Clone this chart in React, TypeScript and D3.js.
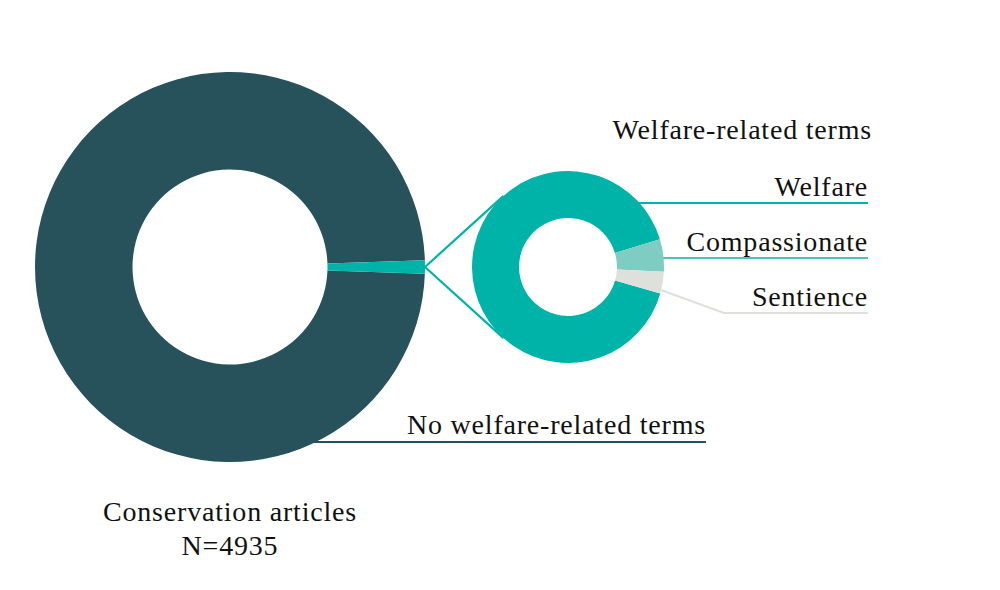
import React from 'react'
import { pie, arc, PieArcDatum } from 'd3'

// article counts (4935 in total)
const outerCategories = ['No welfare-related terms', 'Welfare-related terms']
const outerValues = [4880, 55]

const innerCategories = ['Welfare', 'Compassionate', 'Sentience']
const innerValues = [50, 3, 2]

const totalLabel = ['Conservation articles', 'N=4935']

const W = 1000, H = 590
const FONT = '"Liberation Serif", "DejaVu Serif", serif'

const big = { cx: 230, cy: 267, r: 195, r0: 97.5 }
const small = { cx: 568, cy: 267, r: 96, r0: 49 }

const outerColors = ['#27525c', '#00b3a8']
const innerColors = ['#00b3a8', '#7fcdc2', '#dde0db']
const lineColors = ['#00b3a8', '#4fc2b6', '#dde0db']

const deg = Math.PI / 180

export default function App() {
    // big donut: keep the small slice centred on 3 o'clock
    const relatedShare = outerValues[1] / (outerValues[0] + outerValues[1])
    const bigStart = Math.PI / 2 + (relatedShare * 2 * Math.PI) / 2
    const bigPie = pie<number>().sort(null).startAngle(bigStart).endAngle(bigStart + 2 * Math.PI)
    const bigArcs = bigPie(outerValues)
    const bigArc = arc<PieArcDatum<number>>().innerRadius(big.r0).outerRadius(big.r)

    const smallStart = 106 * deg
    const smallPie = pie<number>().sort(null).startAngle(smallStart).endAngle(smallStart + 2 * Math.PI)
    const smallArcs = smallPie(innerValues)
    const smallArc = arc<PieArcDatum<number>>().innerRadius(small.r0).outerRadius(small.r)

    // tip of the related slice on the big ring
    const rel = bigArcs[1]
    const tipA = (rel.startAngle + rel.endAngle) / 2
    const tip = [big.cx + big.r * Math.sin(tipA), big.cy - big.r * Math.cos(tipA)]

    // tangent points on the small donut
    const dx = tip[0] - small.cx, dy = tip[1] - small.cy
    const d = Math.hypot(dx, dy)
    const base = Math.atan2(dy, dx)
    const off = Math.acos(small.r / d)
    const tangents = [base - off, base + off].map(a => [small.cx + small.r * Math.cos(a), small.cy + small.r * Math.sin(a)])

    // leader lines for the small donut
    const labelRight = 868
    const leaderY = [203, 258, 313]
    const sent = smallArcs[2]
    const sentA = (sent.startAngle + sent.endAngle) / 2 + 3 * deg
    const sentStart = [small.cx + small.r * 0.8 * Math.sin(sentA), small.cy - small.r * 0.8 * Math.cos(sentA)]
    const leaders = [
        `M${small.cx},${leaderY[0]}H${labelRight}`,
        `M${small.cx + (small.r + small.r0) / 2},${leaderY[1]}H${labelRight}`,
        `M${sentStart[0]},${sentStart[1]}L${724},${leaderY[2]}H${labelRight}`,
    ]

    // leader for the big donut
    const noY = 442
    const noStartX = big.cx + Math.sqrt(big.r * big.r - (noY - big.cy) ** 2) - 20

    return (
        <svg width={W} height={H} style={{ position: 'absolute', left: 0, top: 0, background: '#fff' }}
            fontFamily={FONT}>
            <path d={`M${noStartX},${noY}H706`} stroke={outerColors[0]} strokeWidth={2} fill="none" />
            <g transform={`translate(${big.cx},${big.cy})`}>
                {bigArcs.map((a, i) => (
                    <path key={outerCategories[i]} d={bigArc(a) ?? ''} fill={outerColors[i]} />
                ))}
            </g>

            {tangents.map((t, i) => (
                <line key={i} x1={tip[0]} y1={tip[1]} x2={t[0]} y2={t[1]} stroke={outerColors[1]} strokeWidth={2.2} />
            ))}

            {leaders.map((p, i) => (
                <path key={innerCategories[i]} d={p} stroke={lineColors[i]} strokeWidth={2} fill="none" />
            ))}
            <g transform={`translate(${small.cx},${small.cy})`}>
                {smallArcs.map((a, i) => (
                    <path key={innerCategories[i]} d={smallArc(a) ?? ''} fill={innerColors[i]} />
                ))}
            </g>

            <g fontSize={28} fill="#111" letterSpacing={0.8}>
                <text x={872} y={139} textAnchor="end">{outerCategories[1]}</text>
                {innerCategories.map((c, i) => (
                    <text key={c} x={labelRight} y={leaderY[i] - 7} textAnchor="end">{c}</text>
                ))}
                <text x={706} y={noY - 8} textAnchor="end">{outerCategories[0]}</text>
                <text x={big.cx} y={521} textAnchor="middle">{totalLabel[0]}</text>
                <text x={big.cx} y={555} textAnchor="middle">{totalLabel[1]}</text>
            </g>
        </svg>
    )
}
